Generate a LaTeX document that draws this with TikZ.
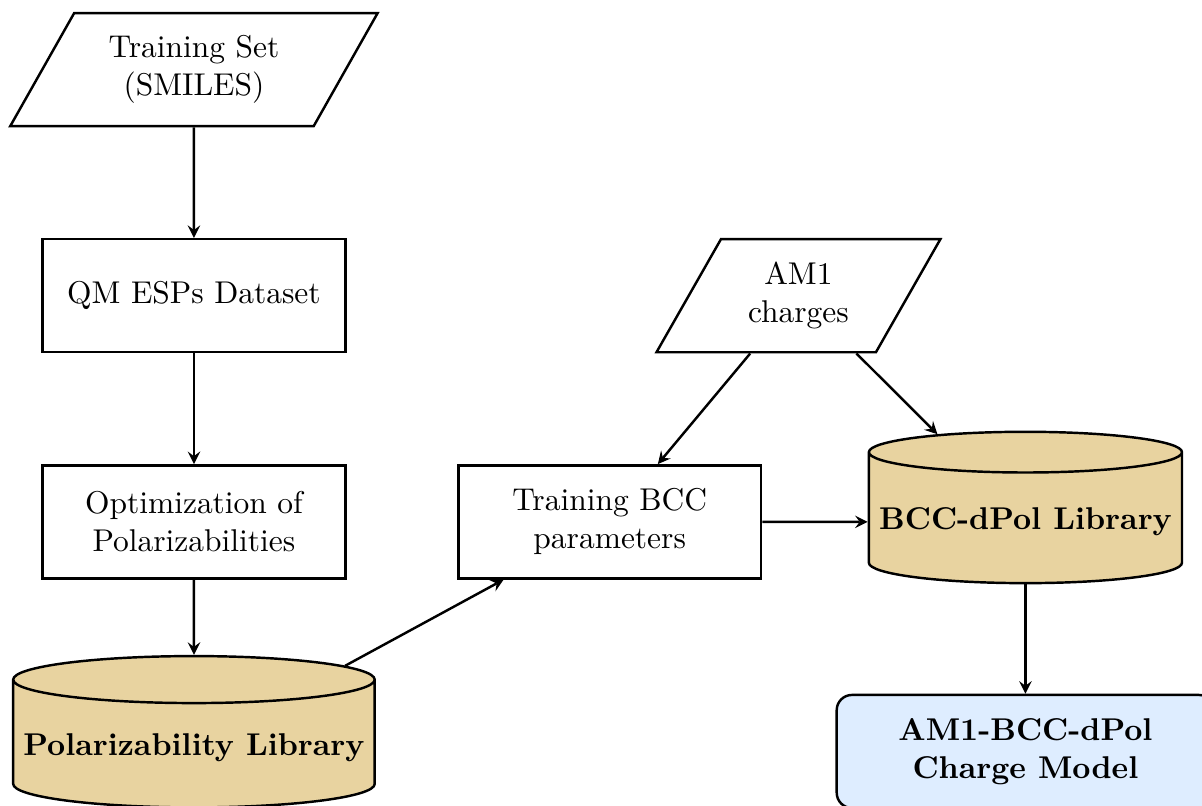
\documentclass[tikz,border=0pt]{standalone}
\usepackage{tikz}
\usetikzlibrary{shapes.geometric,positioning}

\definecolor{libtan}{RGB}{232,211,160}
\definecolor{modelblue}{RGB}{222,237,255}
\newcommand{\boxfont}{\fontsize{10.3}{12.4}\selectfont}

\begin{document}
\begin{tikzpicture}[->,>=stealth,thick,node distance=2.6cm and 4.78cm,on grid,
    every node/.style={font=\boxfont},
    process/.style={draw,rectangle,align=center,minimum width=3.48cm,minimum height=1.3cm},
    inout/.style={draw,trapezium,trapezium left angle=60,trapezium right angle=120,
        trapezium stretches=true,align=center,minimum height=1.3cm},
    database/.style={draw,cylinder,shape border rotate=90,aspect=0.13,fill=libtan,
        font=\boxfont\bfseries,minimum width=3.6cm,minimum height=1.74cm},
    result/.style={draw,rectangle,rounded corners=5pt,fill=modelblue,align=center,
        font=\boxfont\bfseries,minimum width=4.34cm,minimum height=1.3cm}]
    \node[inout,minimum width=4.24cm] (train_set) {Training Set\\(SMILES)};
    \useasboundingbox (-2.23,0.80) rectangle (11.59,-8.46);
    \node[process] (qm_esp) [below=of train_set] {QM ESPs Dataset};
    \node[process] (opt_pol) [below=of qm_esp] {Optimization of\\Polarizabilities};
    \node[database] (pol_lib) [below=of opt_pol] {Polarizability Library};
    \node[process] (train_bcc) [right=of opt_pol] {Training BCC\\parameters};
    \node[inout,minimum width=3.28cm] (am1) [above right=2.6cm and 2.17cm of train_bcc] {AM1\\charges};
    \node[database] (bcc_lib) [right=of train_bcc] {BCC-dPol Library};
    \node[result] (model) [below=2.64cm of bcc_lib] {AM1-BCC-dPol\\Charge Model};
    \path
    (train_set) edge (qm_esp)
    (qm_esp) edge (opt_pol)
    (opt_pol) edge (pol_lib)
    (pol_lib) edge (train_bcc)
    (am1) edge (train_bcc)
          edge (bcc_lib)
    (train_bcc) edge (bcc_lib)
    (bcc_lib) edge (model)
    ;
\end{tikzpicture}
\end{document}
